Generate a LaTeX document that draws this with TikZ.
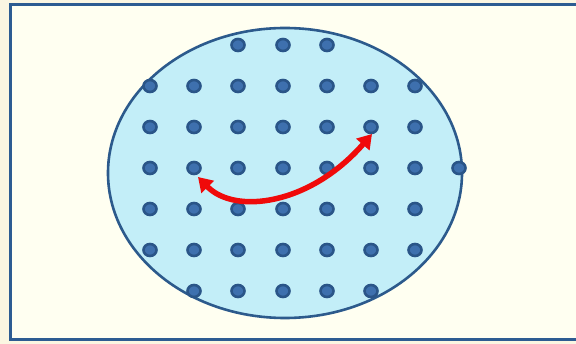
\documentclass[tikz,border=0pt]{standalone}
\usetikzlibrary{arrows.meta,shapes.geometric}
\definecolor{pagebg}{HTML}{FBF6E2}
\definecolor{boxbg}{HTML}{FFFFF1}
\definecolor{boxline}{HTML}{2D5C92}
\definecolor{ellfill}{HTML}{C3EEF8}
\definecolor{ellline}{HTML}{2C5A8C}
\definecolor{dotout}{HTML}{2A5588}
\definecolor{dotin}{HTML}{3E70AE}
\definecolor{arrred}{HTML}{F00A0A}
\tikzset{
  frame/.style={draw=boxline, line width=3pt, fill=boxbg},
  region/.style={draw=ellline, line width=2.6pt, fill=ellfill},
  gdot/.style={ellipse, minimum width=13pt, minimum height=12pt, inner sep=0pt,
    draw=dotout, line width=2.6pt, fill=dotin},
  move/.style={draw=arrred, line width=5.5pt,
    {Triangle[length=14pt,width=17pt]}-{Triangle[length=14pt,width=17pt]}}
}
\begin{document}
\begin{tikzpicture}[x=1pt,y=-1pt]
\useasboundingbox (0,0) rectangle (576,344);
\fill[pagebg] (0,0) rectangle (576,344);
\draw[frame] (10,5) rectangle (600,340);
\draw[region] (285,173) ellipse [x radius=177, y radius=145];
% row 1
\foreach \c/\x in {3/238,4/283,5/327} \node[gdot] (d1-\c) at (\x,45) {};
% rows 2,3,5,6
\foreach \r/\y in {2/86,3/127,5/209,6/250}
  \foreach \c/\x in {1/150,2/194,3/238,4/283,5/327,6/371,7/415}
    \node[gdot] (d\r-\c) at (\x,\y) {};
% row 4
\foreach \c/\x in {1/150,2/194,3/238,4/283,5/327,6/371,7/415,8/459}
  \node[gdot] (d4-\c) at (\x,168) {};
% row 7
\foreach \c/\x in {2/194,3/238,4/283,5/327,6/371}
  \node[gdot] (d7-\c) at (\x,291) {};
\coordinate (a1) at (198,177);
\coordinate (a2) at (372,134);
\draw[move] (a1) .. controls (235,215) and (310,205) .. (a2);
\end{tikzpicture}
\end{document}
